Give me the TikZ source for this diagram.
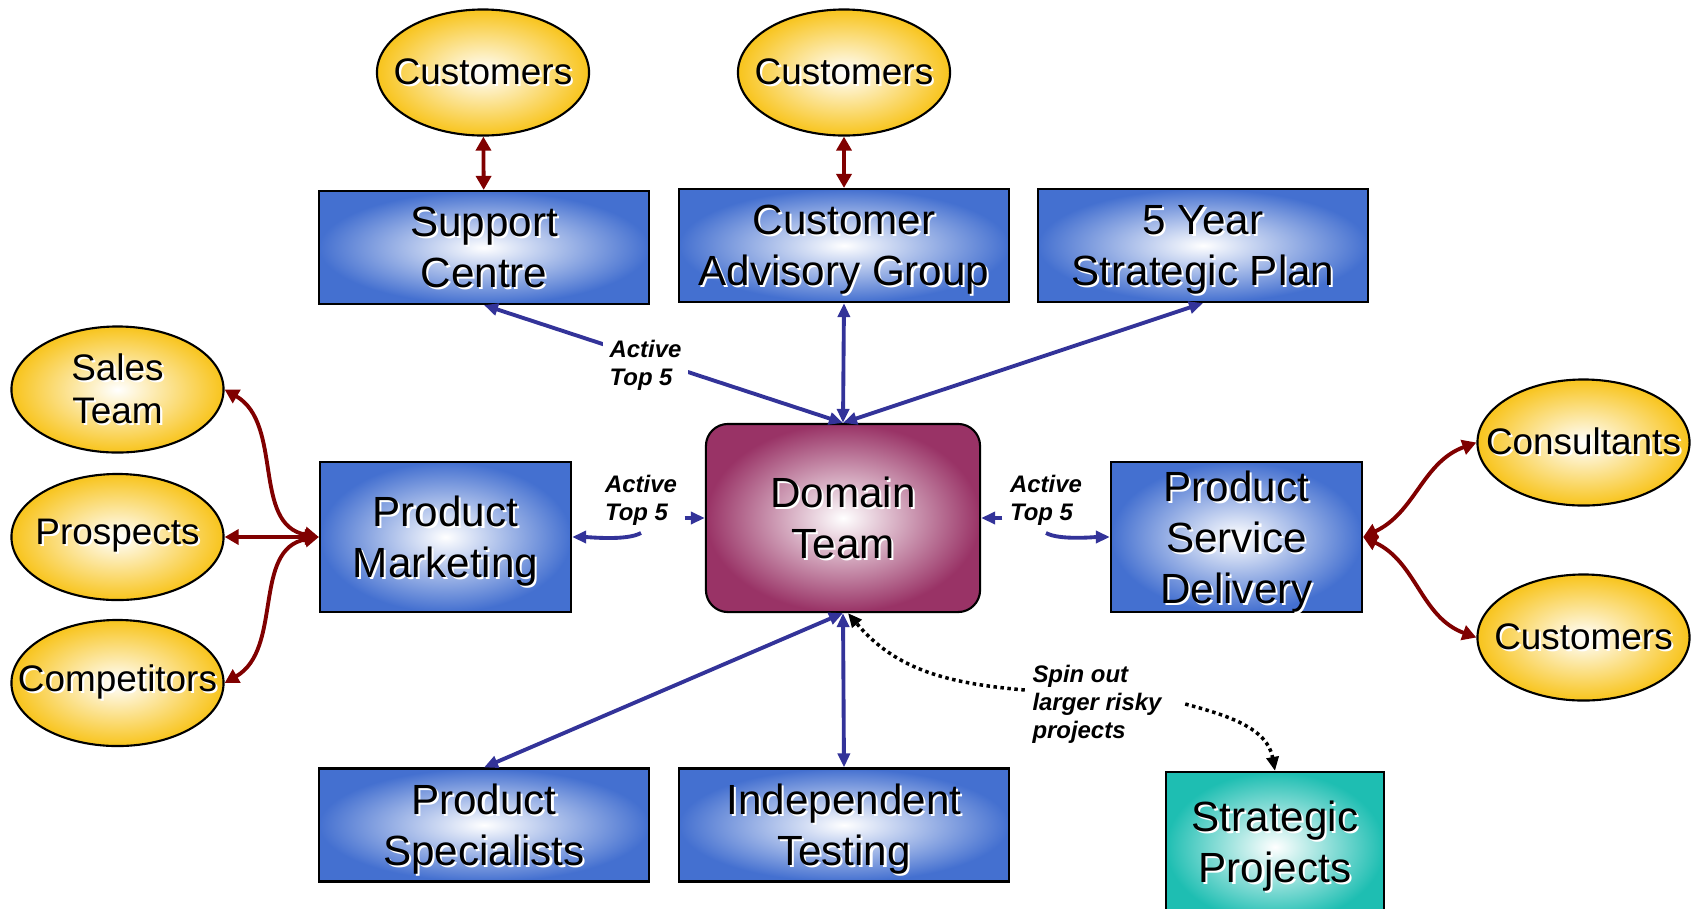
\documentclass[tikz,border=0pt]{standalone}
\usepackage{fontspec}
\setmainfont{Liberation Sans}
\usetikzlibrary{arrows.meta,shapes.geometric,positioning}

\definecolor{boxblue}{RGB}{68,112,208}
\definecolor{gold}{RGB}{248,196,28}
\definecolor{domred}{RGB}{153,51,102}
\definecolor{projteal}{RGB}{30,190,178}
\definecolor{linkblue}{RGB}{51,51,153}
\definecolor{linkred}{RGB}{128,0,0}

\newcommand\shtxt[1]{\rlap{\kern0.6pt\raisebox{-0.6pt}{\textcolor{white}{#1}}}#1}

\tikzset{
	unit/.style={rectangle, draw=black, line width=0.6pt, inner color=white, outer color=boxblue,
		minimum width=3.3cm, minimum height=1.13cm, inner sep=0pt, align=center, text depth=0pt,
		font=\fontsize{12}{14.5}\selectfont},
	hub/.style={unit, rounded corners=0.22cm, outer color=domred, minimum width=2.74cm, minimum height=1.88cm},
	party/.style={ellipse, draw=black, line width=0.6pt, inner color=white, outer color=gold,
		minimum width=2.12cm, minimum height=1.26cm, inner xsep=-0.3cm, inner ysep=0pt, align=center,
		font=\fontsize{10.5}{12.3}\selectfont},
	note/.style={font=\fontsize{6.8}{8}\selectfont\bfseries\itshape, align=left, inner sep=2pt},
	link/.style={draw=linkblue, line width=1.1pt, >={Triangle[length=0.14cm, width=0.12cm]}},
	redlink/.style={draw=linkred, line width=1.1pt, >={Triangle[length=0.14cm, width=0.15cm]}},
	spinlink/.style={draw=black, line width=0.035cm, dash pattern=on 0.035cm off 0.035cm,
		>={Triangle[length=0.14cm, width=0.12cm]}}
}

\begin{document}
\begin{tikzpicture}[x=0.01cm, y=-0.01cm]
	\useasboundingbox (0,0) rectangle (1696,908);
	\clip (0,0) rectangle (1696,908);

	\node[party] (custa) at (483,72.5) {\shtxt{Customers}};
	\node[party] (custb) at (844,72.5) {\shtxt{Customers}};
	\node[unit] (sup) at (484,247.5) {\shtxt{Support}\\\shtxt{Centre}};
	\node[unit] (cag) at (844,245.5) {\shtxt{Customer}\\\shtxt{Advisory Group}};
	\node[unit] (plan) at (1203,245.5) {\shtxt{5 Year}\\\shtxt{Strategic Plan}};
	\node[party] (sales) at (117.5,389.5) {\shtxt{Sales}\\\shtxt{Team}};
	\node[party] (prosp) at (117.5,537) {\shtxt{Prospects}};
	\node[party] (comp) at (117.5,683) {\shtxt{Competitors}};
	\node[unit, minimum width=2.51cm, minimum height=1.5cm] (pm) at (445.5,537) {\shtxt{Product}\\\shtxt{Marketing}};
	\node[hub] (dom) at (843,518) {\shtxt{Domain}\\\shtxt{Team}};
	\node[unit, minimum width=2.51cm, minimum height=1.5cm] (psd) at (1236.5,537) {\shtxt{Product}\\\shtxt{Service}\\\shtxt{Delivery}};
	\node[party] (cons) at (1583.5,442.5) {\shtxt{Consultants}};
	\node[party] (custc) at (1583.5,637.5) {\shtxt{Customers}};
	\node[unit] (spec) at (484,825) {\shtxt{Product}\\\shtxt{Specialists}};
	\node[unit] (test) at (844,825) {\shtxt{Independent}\\\shtxt{Testing}};
	\node[unit, outer color=projteal, text depth=, minimum width=2.18cm, minimum height=1.5cm] (proj) at (1275,847) {\shtxt{Strategic}\\\shtxt{Projects}};
	\node[note] (lblpm) at (641,500) {Active\\Top 5};
	\node[note] (lblpsd) at (1046,500) {Active\\Top 5};
	\node[note] (spin) at (1097,704) {Spin out\\larger risky\\projects};

	\draw[redlink, <->] (custa) -- (sup);
	\draw[redlink, <->] (custb) -- (cag);
	\draw[redlink, <->] (sales.east) to[out=-30, in=170] (pm.west);
	\draw[redlink, <->] (prosp.east) -- (pm.west);
	\draw[redlink, <->] (comp.east) to[out=30, in=190] (pm.west);
	\draw[redlink, <->] (psd.east) to[out=25, in=200] (cons.west);
	\draw[redlink, <->] (psd.east) to[out=-25, in=160] (custc.west);

	\draw[link, <->] (sup.south) -- node[note, fill=white, pos=0.45, yshift=-0.07cm] (lbltop) {Active\\Top 5} (dom.north);
	\draw[link, <->] (cag.south) -- (dom.north);
	\draw[link, <->] (plan.south) -- (dom.north);
	\draw[link, ->] (lblpm.east |- dom.west) -- (dom.west);
	\draw[link, ->] (lblpm.south) to[out=-150, in=0, looseness=0.6] (pm.east);
	\draw[link, ->] (lblpsd.west |- dom.east) -- (dom.east);
	\draw[link, ->] (lblpsd.south) to[out=-30, in=180, looseness=0.6] (psd.west);
	\draw[link, <->] (dom.south) -- (spec.north);
	\draw[link, <->] (dom.south) -- (test.north);

	\draw[spinlink, ->] ([yshift=0.14cm]spin.west) to[out=175, in=-50] ([xshift=0.05cm]dom.south);
	\draw[spinlink, ->] ([xshift=0.16cm]spin.east) to[out=-15, in=100] (proj.north);
\end{tikzpicture}
\end{document}
